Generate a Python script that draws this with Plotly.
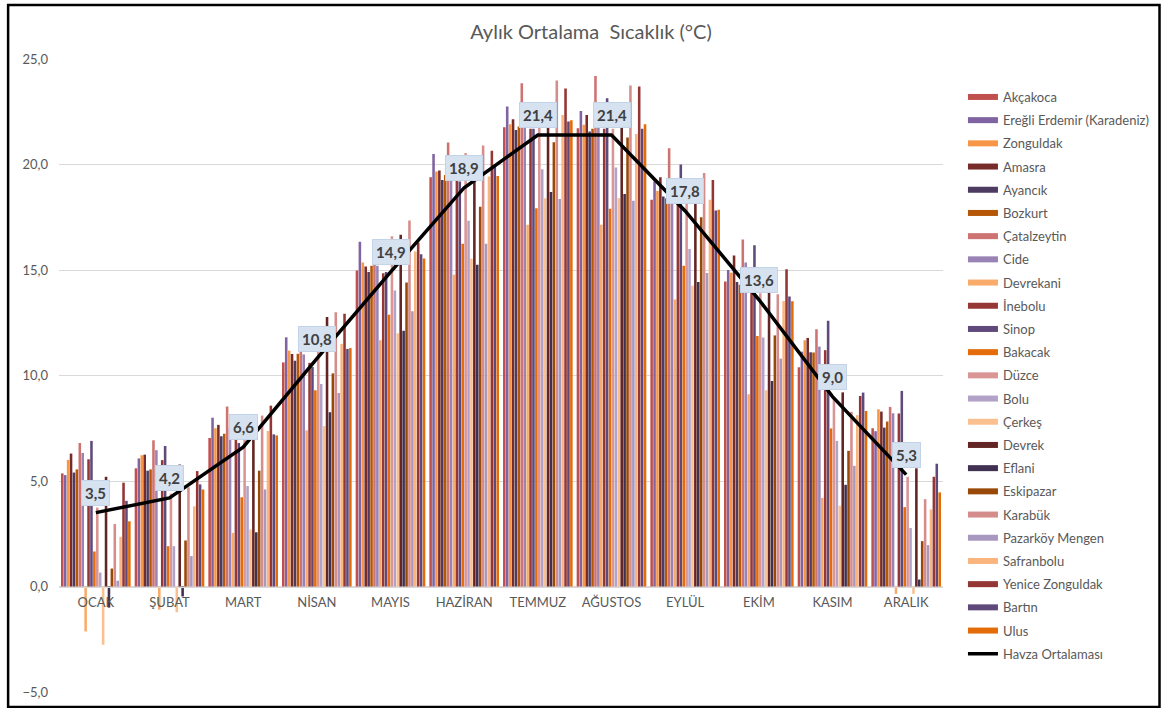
import plotly.graph_objects as go

months = ["OCAK", "ŞUBAT", "MART", "NİSAN", "MAYIS", "HAZİRAN", "TEMMUZ",
          "AĞUSTOS", "EYLÜL", "EKİM", "KASIM", "ARALIK"]

akcakoca = [5.36, 5.6, 7.04, 10.62, 14.98, 19.4, 21.77, 21.72, 18.33, 14.46, 10.39, 7.5]
eregli = [5.28, 6.07, 8.0, 11.81, 16.34, 20.5, 22.75, 22.54, 19.2, 15.0, 11.13, 7.36]
zonguldak = [6.0, 6.22, 7.5, 11.18, 15.36, 19.67, 21.91, 21.88, 18.75, 14.87, 11.67, 8.4]
amasra = [6.3, 6.25, 7.66, 11.02, 15.17, 19.72, 22.15, 22.35, 19.4, 15.69, 11.78, 8.29]
ayancik = [5.4, 5.49, 7.12, 10.7, 14.9, 19.27, 21.64, 21.56, 18.48, 14.43, 11.1, 7.53]
bozkurt = [5.55, 5.55, 7.24, 11.03, 15.2, 19.5, 21.8, 21.7, 18.4, 14.3, 11.09, 7.82]
catalzeytin = [6.8, 6.93, 8.53, 11.3, 15.3, 21.04, 23.85, 24.2, 20.77, 16.45, 12.19, 8.51]
cide = [6.33, 6.46, 7.5, 11.0, 15.2, 19.6, 21.8, 21.8, 18.2, 15.35, 11.37, 8.21]
devrekani = [-2.13, -1.1, 2.54, 7.4, 11.67, 14.78, 17.14, 17.14, 13.6, 9.11, 4.2, -0.35]
inebolu = [6.03, 5.99, 7.0, 10.6, 14.85, 19.27, 21.7, 21.7, 18.3, 14.0, 11.2, 8.2]
sinop = [6.9, 6.66, 6.8, 10.4, 14.9, 19.2, 21.7, 23.14, 20.0, 16.17, 12.59, 9.27]
bakacak = [1.66, 1.91, 4.23, 9.3, 12.88, 16.24, 17.93, 17.9, 15.2, 11.87, 7.49, 3.76]
duzce = [3.74, 4.4, 6.96, 12.3, 16.6, 20.54, 21.9, 21.7, 18.6, 13.9, 9.0, 5.2]
bolu = [0.66, 1.91, 4.76, 9.6, 14.03, 17.33, 19.78, 19.86, 16.0, 11.8, 6.9, 2.77]
cerkes = [-2.76, -1.22, 2.7, 7.6, 12.0, 15.53, 18.4, 18.4, 14.25, 9.3, 3.83, -0.35]
devrek = [5.2, 5.78, 7.0, 12.77, 16.67, 19.2, 22.87, 21.8, 18.5, 14.0, 9.2, 5.6]
eflani = [-1.0, -0.47, 2.57, 8.26, 12.12, 15.25, 18.7, 18.6, 14.43, 9.74, 4.82, 0.33]
eskipazar = [0.85, 2.18, 5.49, 10.1, 14.41, 18.0, 21.06, 21.28, 17.5, 11.9, 6.43, 2.15]
karabuk = [2.96, 4.7, 8.1, 13.0, 17.35, 20.9, 23.98, 23.74, 19.6, 13.85, 8.28, 4.14]
pazarkoy = [0.27, 1.44, 4.6, 9.17, 13.04, 16.24, 18.36, 18.28, 14.86, 10.8, 5.72, 1.96]
safranbolu = [2.35, 3.8, 7.37, 11.5, 15.88, 19.43, 22.35, 21.45, 18.33, 13.53, 8.12, 3.65]
yenice = [4.92, 5.47, 8.57, 12.93, 16.3, 20.65, 23.6, 23.7, 19.27, 15.03, 9.03, 5.2]
bartin = [4.06, 4.84, 7.21, 11.26, 15.75, 19.98, 22.04, 21.69, 17.82, 13.74, 9.19, 5.82]
ulus = [3.09, 4.6, 7.16, 11.3, 15.55, 19.46, 22.1, 21.91, 17.85, 13.52, 8.32, 4.46]

havza = [3.5, 4.2, 6.6, 10.8, 14.9, 18.9, 21.4, 21.4, 17.8, 13.6, 9.0, 5.3]

station_names = ["Akçakoca", "Ereğli Erdemir (Karadeniz)", "Zonguldak", "Amasra", "Ayancık",
                 "Bozkurt", "Çatalzeytin", "Cide", "Devrekani", "İnebolu", "Sinop", "Bakacak",
                 "Düzce", "Bolu", "Çerkeş", "Devrek", "Eflani", "Eskipazar", "Karabük",
                 "Pazarköy Mengen", "Safranbolu", "Yenice Zonguldak", "Bartın", "Ulus"]
station_values = [akcakoca, eregli, zonguldak, amasra, ayancik, bozkurt, catalzeytin, cide,
                  devrekani, inebolu, sinop, bakacak, duzce, bolu, cerkes, devrek, eflani,
                  eskipazar, karabuk, pazarkoy, safranbolu, yenice, bartin, ulus]
station_colors = ["#C0504D", "#8064A2", "#F79646", "#772C2A", "#4D3B62", "#B65708",
                  "#CD7371", "#9983B5", "#F9AB6B", "#953735", "#604A7B", "#E46C0A",
                  "#D99694", "#B3A2C7", "#FAC090", "#632523", "#403152", "#984807",
                  "#D58D8B", "#A898C0", "#FAB57F", "#943634", "#5F497A", "#E36C09"]

FONT = "Lato, 'Open Sans', sans-serif"
GRAY = "#595959"
Y_MIN, Y_MAX = -5, 25

fig = go.Figure()
for i, (name, vals, col) in enumerate(zip(station_names, station_values, station_colors)):
    fig.add_trace(go.Bar(x=months, y=vals, name=name, marker_color=col,
                         marker_line_width=0, showlegend=False))
    # legend swatch (wide line as in the reference)
    fig.add_trace(go.Scatter(x=[None], y=[None], mode="lines", name=name,
                             line=dict(color=col, width=6), legendgroup=f"g{i}",
                             showlegend=True, hoverinfo="skip"))

fig.add_trace(go.Scatter(x=months, y=havza, mode="lines", name="Havza Ortalaması",
                         line=dict(color="black", width=3.5), legendgroup="gavg"))

for m, v in zip(months, havza):
    fig.add_annotation(x=m, y=v, text="<b>" + f"{v:.1f}".replace(".", ",") + "</b>",
                       showarrow=False, yshift=20,
                       font=dict(family=FONT, size=15, color="#404040"),
                       bgcolor="#D6E2F0", bordercolor="#C3D4E8", borderwidth=1, borderpad=3)

# plot area geometry (pixels) -> used for paper coordinates
L, R, T, B = 59, 945, 59, 692
W, H = 1166, 708
pw, ph = R - L, B - T
zero_frac = (0 - Y_MIN) / (Y_MAX - Y_MIN)

fig.update_layout(
    width=W, height=H,
    margin=dict(l=L, r=W - R, t=T, b=H - B, pad=0),
    paper_bgcolor="white", plot_bgcolor="white",
    barmode="group", bargap=0.05, bargroupgap=0.12,
    separators=",.",
    font=dict(family=FONT, color=GRAY, size=13),
    title=dict(text="Aylık Ortalama  Sıcaklık (°C)", x=591 / W, xref="container",
               xanchor="center", y=1 - 32 / H, yref="container", yanchor="middle",
               font=dict(family=FONT, size=20, color=GRAY)),
    legend=dict(x=(965 - L) / pw, xanchor="left", y=(B - 82) / ph, yanchor="top",
                font=dict(family=FONT, size=13, color=GRAY), tracegroupgap=3.3,
                bgcolor="rgba(0,0,0,0)", itemwidth=30),
    xaxis=dict(anchor="free", position=zero_frac, showline=True, linecolor="#D9D9D9",
               linewidth=1, ticks="outside", ticklen=4, tickcolor="rgba(0,0,0,0)",
               showgrid=False, automargin=False,
               tickfont=dict(family=FONT, size=13, color=GRAY)),
    yaxis=dict(range=[Y_MIN, Y_MAX], dtick=5, tickformat=".1f", showgrid=True,
               gridcolor="#D9D9D9", gridwidth=1, zeroline=False, showline=False,
               ticklabelstandoff=10, automargin=False,
               tickfont=dict(family=FONT, size=13, color=GRAY)),
    showlegend=True,
)

# outer black frame of the chart
fig.add_shape(type="rect", xref="paper", yref="paper",
              x0=(8 - L) / pw, x1=(1162 - L) / pw, y0=(B - 707) / ph, y1=(B - 5) / ph,
              line=dict(color="black", width=2.5), fillcolor="rgba(0,0,0,0)", layer="above")

fig.write_html("out.html", config={"displayModeBar": False},
               post_script="document.body.style.margin='0';document.body.style.padding='0';")
